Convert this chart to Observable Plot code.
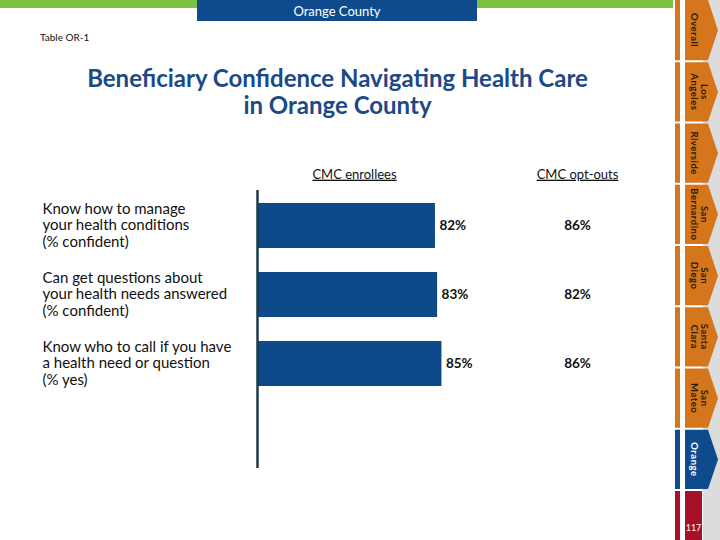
<!DOCTYPE html>
<html>
<head>
<meta charset="utf-8">
<script src="https://cdn.jsdelivr.net/npm/d3@7"></script>
<script src="https://cdn.jsdelivr.net/npm/@observablehq/plot@0.6"></script>
<style>
  html, body { margin: 0; padding: 0; background: #fff; }
  #page { position: relative; width: 720px; height: 540px; overflow: hidden; background: #fff; font-family: Lato, "DejaVu Sans", sans-serif; }
  .abs { position: absolute; }
  #chart { position: absolute; left: 0; top: 0; }
  #chart svg { overflow: visible; }
</style>
</head>
<body>
<div id="page">
  <div class="abs" style="left:0;top:0;width:197px;height:8px;background:#7dc142"></div>
  <div class="abs" style="left:477px;top:0;width:196px;height:8px;background:#7dc142"></div>
  <div class="abs" style="left:197px;top:0;width:280px;height:21px;background:#0f4a8c;color:#fff;font-size:13px;line-height:22px;text-align:center">Orange County</div>
  <div class="abs" style="left:40px;top:31px;font-size:10px;color:#111">Table OR-1</div>
  <div class="abs" style="left:0;top:64px;width:675px;text-align:center;font-size:24px;font-weight:bold;line-height:27px;color:#1b4a86">Beneficiary Confidence Navigating Health Care<br>in Orange County</div>
  <div id="chart"></div>
  <svg id="tabs" class="abs" style="left:0;top:0" width="720" height="540"></svg>
</div>
<script>
// ---- data ----
const questions = [
  "Know how to manage\nyour health conditions\n(% confident)",
  "Can get questions about\nyour health needs answered\n(% confident)",
  "Know who to call if you have\na health need or question\n(% yes)"
];
const enrollees = [82, 83, 85];
const optOuts = [86, 82, 86];
const groups = ["CMC enrollees", "CMC opt-outs"];
const tabLabels = ["Overall", "Los\nAngeles", "Riverside", "San\nBernardino", "San\nDiego", "Santa\nClara", "San\nMateo", "Orange"];
const activeTab = "Orange";
const pageNumber = "117";

const rows = questions.map((q, i) => ({q, enr: enrollees[i], opt: optOuts[i]}));

const chart = Plot.plot({
  width: 720,
  height: 540,
  marginLeft: 257,
  marginRight: 246,
  marginTop: 179,
  marginBottom: 129,
  x: {domain: [0, 100], axis: null},
  y: {domain: questions, axis: null, padding: 0.343},
  style: {fontFamily: "Lato, sans-serif", background: "transparent", color: "#111"},
  marks: [
    Plot.barX(rows, {x: "enr", y: "q", fill: "#0e4a8a"}),
    Plot.ruleX([0], {stroke: "#1b3a4b", strokeWidth: 2.5, insetTop: 11, insetBottom: -57}),
    Plot.text(rows, {x: "enr", y: "q", text: d => d.enr + "%", textAnchor: "start", dx: 4, fontWeight: "bold", fontSize: 13.5, fill: "#111"}),
    Plot.text(rows, {frameAnchor: "right", y: "q", text: d => d.opt + "%", textAnchor: "middle", dx: 103, fontWeight: "bold", fontSize: 13.5, fill: "#111"}),
    Plot.text(rows, {frameAnchor: "left", y: "q", text: "q", textAnchor: "start", dx: -215, dy: -1, fontSize: 15, lineHeight: 1.1, fill: "#111"}),
    Plot.text([groups[0]], {frameAnchor: "top-left", text: d => d, textAnchor: "middle", lineAnchor: "middle", dx: 97, dy: -5, fontSize: 13, fill: "#111"}),
    Plot.text([groups[1]], {frameAnchor: "top-right", text: d => d, textAnchor: "middle", lineAnchor: "middle", dx: 103, dy: -5, fontSize: 13, fill: "#111"})
  ]
});
chart.querySelectorAll("text").forEach(t => {
  if (groups.includes(t.textContent)) t.style.textDecoration = "underline";
});
document.getElementById("chart").appendChild(chart);

// ---- side navigation tabs ----
const svg = d3.select("#tabs");
const orange = "#d5761c", blue = "#0f4a8c", red = "#a5102a";
svg.append("rect").attr("x", 703).attr("y", 0).attr("width", 17).attr("height", 540).attr("fill", "#dcdcdc");
const tabH = 61.25;
tabLabels.forEach((lab, i) => {
  const y0 = i * tabH + (i ? 1 : 0), y1 = (i + 1) * tabH - 1, ym = (y0 + y1) / 2;
  const c = lab === activeTab ? blue : orange;
  svg.append("rect").attr("x", 675).attr("y", y0).attr("width", 5).attr("height", y1 - y0).attr("fill", c);
  svg.append("polygon")
    .attr("points", `685,${y0} 708,${y0} 718,${ym} 708,${y1} 685,${y1}`)
    .attr("fill", c);
  const lines = lab.split("\n");
  lines.forEach((ln, j) => {
    const x = 694 + (lines.length - 1 - j) * 10;
    svg.append("text")
      .attr("transform", `translate(${x},${ym}) rotate(90)`)
      .attr("text-anchor", "middle").attr("dy", "0.35em")
      .attr("font-size", 9.5).attr("font-weight", "bold").attr("letter-spacing", 0.5)
      .attr("fill", lab === activeTab ? "#fff" : "#2a1a0a")
      .text(ln);
  });
});
svg.append("rect").attr("x", 675).attr("y", 491).attr("width", 5).attr("height", 49).attr("fill", red);
svg.append("rect").attr("x", 685).attr("y", 491).attr("width", 17).attr("height", 49).attr("fill", red);
svg.append("text").attr("x", 693.5).attr("y", 531).attr("text-anchor", "middle")
  .attr("font-size", 9).attr("fill", "#fff").text(pageNumber);
</script>
</body>
</html>
